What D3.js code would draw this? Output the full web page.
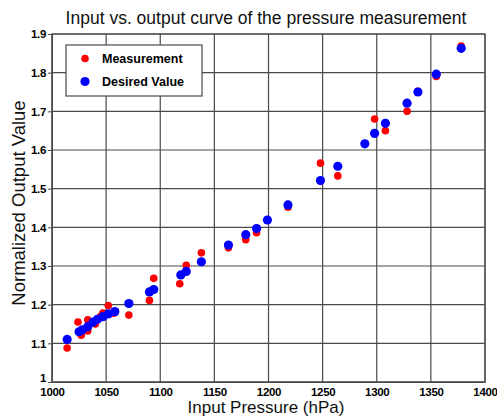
<!DOCTYPE html>
<html lang="en">
<head>
  <meta charset="utf-8" />
  <script src="https://d3js.org/d3.v7.min.js"></script>
  <title>Input vs. output curve of the pressure measurement</title>
  <style>
    body { margin: 0; background: #fff; }
    text { font-family: Arial, "Liberation Sans", Helvetica, sans-serif; }
  </style>
</head>
<body>
<svg width="497" height="416"></svg>
<script>

// measured points (red)
var measPressure = [1014, 1024, 1027, 1033, 1033, 1040, 1045, 1047, 1052, 1057, 1071, 1090, 1094, 1118, 1124, 1138, 1163, 1179, 1189, 1218, 1248, 1264, 1298, 1308, 1328, 1338, 1355, 1378];
var measValue    = [1.088, 1.155, 1.121, 1.161, 1.132, 1.150, 1.170, 1.178, 1.198, 1.178, 1.173, 1.211, 1.268, 1.254, 1.302, 1.334, 1.347, 1.368, 1.386, 1.452, 1.566, 1.533, 1.680, 1.650, 1.700, 1.752, 1.790, 1.869];

// desired points (blue)
var desPressure = [1014, 1025, 1028, 1033, 1038, 1042, 1047, 1052, 1058, 1071, 1090, 1094, 1119, 1124, 1138, 1163, 1179, 1189, 1199, 1218, 1248, 1264, 1289, 1298, 1308, 1328, 1338, 1355, 1378];
var desValue    = [1.110, 1.130, 1.135, 1.143, 1.155, 1.162, 1.169, 1.176, 1.182, 1.203, 1.233, 1.239, 1.277, 1.286, 1.311, 1.354, 1.381, 1.397, 1.419, 1.458, 1.521, 1.558, 1.616, 1.643, 1.669, 1.721, 1.750, 1.796, 1.863];

var xTicks = [1000, 1050, 1100, 1150, 1200, 1250, 1300, 1350, 1400];
var yTicks = [1, 1.1, 1.2, 1.3, 1.4, 1.5, 1.6, 1.7, 1.8, 1.9];
var legendLabels = ["Measurement", "Desired Value"];

var svg = d3.select("svg");
var plotLeft = 52, plotRight = 485, plotTop = 34, plotBottom = 382;
var lineColor = "#4a4a4a";

var x = d3.scaleLinear().domain([1000, 1400]).range([plotLeft, plotRight]);
var y = d3.scaleLinear().domain([1, 1.9]).range([plotBottom, plotTop]);

// grid
svg.append("g")
  .selectAll("line")
  .data(xTicks)
  .enter().append("line")
  .attr("x1", function(d){ return x(d); })
  .attr("x2", function(d){ return x(d); })
  .attr("y1", plotTop).attr("y2", plotBottom)
  .attr("stroke", lineColor).attr("stroke-width", 1.2);

svg.append("g")
  .selectAll("line")
  .data(yTicks)
  .enter().append("line")
  .attr("x1", plotLeft).attr("x2", plotRight)
  .attr("y1", function(d){ return y(d); })
  .attr("y2", function(d){ return y(d); })
  .attr("stroke", lineColor).attr("stroke-width", 1.2);

// axes
var xAxis = svg.append("g")
  .attr("transform", "translate(0," + plotBottom + ")")
  .call(d3.axisBottom(x).tickValues(xTicks).tickSize(0).tickPadding(6).tickFormat(d3.format("d")));
var yAxis = svg.append("g")
  .attr("transform", "translate(" + plotLeft + ",0)")
  .call(d3.axisLeft(y).tickValues(yTicks).tickSize(4).tickPadding(2).tickFormat(function(d){ return d === 1 ? "1" : d3.format(".1f")(d); }));

[xAxis, yAxis].forEach(function(a){
  a.select(".domain").attr("stroke", lineColor);
  a.selectAll(".tick line").attr("stroke", lineColor);
  a.selectAll("text")
    .attr("font-family", "Arial, 'Liberation Sans', sans-serif")
    .attr("font-size", 11.5)
    .attr("font-weight", "bold")
    .attr("letter-spacing", "-0.3")
    .attr("fill", "#000");
});
// the "1" sits a bit above the corner in the reference
yAxis.selectAll(".tick text").filter(function(d){ return d === 1; }).attr("dy", "-0.05em");

// frame
svg.append("rect")
  .attr("x", plotLeft).attr("y", plotTop)
  .attr("width", plotRight - plotLeft).attr("height", plotBottom - plotTop)
  .attr("fill", "none").attr("stroke", lineColor).attr("stroke-width", 1.2);

// points
svg.append("g")
  .selectAll("circle")
  .data(d3.range(measPressure.length))
  .enter().append("circle")
  .attr("cx", function(i){ return x(measPressure[i]); })
  .attr("cy", function(i){ return y(measValue[i]); })
  .attr("r", 3.8)
  .attr("fill", "#ff0000");

svg.append("g")
  .selectAll("circle")
  .data(d3.range(desPressure.length))
  .enter().append("circle")
  .attr("cx", function(i){ return x(desPressure[i]); })
  .attr("cy", function(i){ return y(desValue[i]); })
  .attr("r", 4.6)
  .attr("fill", "#0000ff");

// legend
var lg = svg.append("g");
lg.append("rect")
  .attr("x", 66).attr("y", 45).attr("width", 136).attr("height", 51)
  .attr("fill", "#fff").attr("stroke", lineColor).attr("stroke-width", 1.2);
var legendColors = ["#ff0000", "#0000ff"];
var legendR = [3.8, 4.6];
legendLabels.forEach(function(name, i){
  var ly = 58.5 + i * 23;
  lg.append("circle").attr("cx", 85).attr("cy", ly).attr("r", legendR[i]).attr("fill", legendColors[i]);
  lg.append("text").attr("x", 102).attr("y", ly + 4.5)
    .attr("font-size", 12.5).attr("font-weight", "bold").attr("fill", "#000")
    .text(name);
});

// titles
svg.append("text")
  .attr("x", 266).attr("y", 24)
  .attr("text-anchor", "middle")
  .attr("font-size", 17.5).attr("fill", "#111")
  .text("Input vs. output curve of the pressure measurement");

svg.append("text")
  .attr("x", 266).attr("y", 413)
  .attr("text-anchor", "middle")
  .attr("font-size", 17).attr("fill", "#111")
  .text("Input Pressure (hPa)");

svg.append("text")
  .attr("transform", "translate(25,203) rotate(-90)")
  .attr("text-anchor", "middle")
  .attr("font-size", 18.5).attr("fill", "#111")
  .text("Normalized Output Value");

</script>
</body>
</html>
